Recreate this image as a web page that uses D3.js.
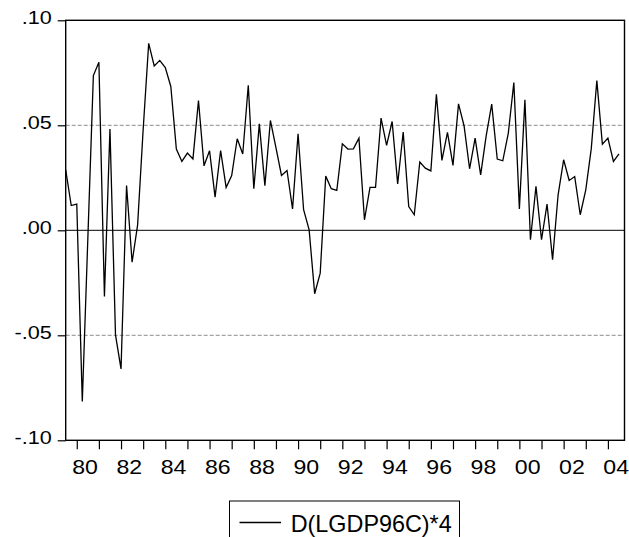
<!DOCTYPE html>
<html>
<head>
<meta charset="utf-8">
<script src="https://cdn.jsdelivr.net/npm/d3@7"></script>
<style>
  body { margin: 0; background: #fff; }
  text { font-family: "Liberation Sans", Arial, sans-serif; fill: #000; }
</style>
</head>
<body>
<svg id="chart" width="629" height="537"></svg>
<script>
'use strict';

// quarterly sample, first observation 1979Q3
var startYear = 1979.5;
var seriesName = 'D(LGDP96C)*4';
var gdpGrowth = [
  0.0288, 0.0118, 0.0125, -0.0815, -0.0040, 0.0737, 0.0800, -0.0315, 0.0482, -0.0498,
  -0.0660, 0.0213, -0.0152, 0.0026, 0.0480, 0.0890, 0.0783, 0.0809, 0.0775, 0.0685,
  0.0387, 0.0328, 0.0368, 0.0340, 0.0618, 0.0307, 0.0379, 0.0158, 0.0380, 0.0204,
  0.0261, 0.0436, 0.0363, 0.0691, 0.0198, 0.0507, 0.0213, 0.0523, 0.0394, 0.0261,
  0.0285, 0.0102, 0.0460, 0.0098, 0.0002, -0.0302, -0.0204, 0.0258, 0.0198, 0.0190,
  0.0412, 0.0387, 0.0388, 0.0439, 0.0050, 0.0204, 0.0204, 0.0534, 0.0404, 0.0518,
  0.0221, 0.0468, 0.0113, 0.0074, 0.0325, 0.0296, 0.0283, 0.0648, 0.0333, 0.0466,
  0.0309, 0.0602, 0.0498, 0.0293, 0.0439, 0.0264, 0.0450, 0.0601, 0.0339, 0.0331,
  0.0463, 0.0704, 0.0102, 0.0621, -0.0045, 0.0209, -0.0045, 0.0125, -0.0140, 0.0169,
  0.0336, 0.0237, 0.0256, 0.0074, 0.0193, 0.0390, 0.0713, 0.0410, 0.0439, 0.0328,
  0.0364
];
var yTicks = [-0.10, -0.05, 0.00, 0.05, 0.10];
var yTickLabels = ['-.10', '-.05', '.00', '.05', '.10'];
var yearTicks = d3.range(1980, 2005);
var yearLabels = ['80', '82', '84', '86', '88', '90', '92', '94', '96', '98', '00', '02', '04'];

var plotLeft = 65.7, plotRight = 624.5, plotTop = 20.3, plotBottom = 440.3;

var svg = d3.select('#chart');

var x = d3.scaleLinear().domain([1979.5, 2004.75]).range([plotLeft, plotRight]);
var y = d3.scaleLinear().domain([-0.1, 0.1]).range([plotBottom, plotTop]);

// the original font renders wider than Arial, so widen the glyphs and
// re-anchor by hand (textLength grows to the right of the start point)
function stretch(sel, factor, anchor) {
  sel.each(function () {
    var el = d3.select(this);
    var w = this.getComputedTextLength();
    var nx = +el.attr('x') || 0;
    var sw = w * factor;
    if (anchor === 'end') nx = nx - sw;
    if (anchor === 'middle') nx = nx - sw / 2;
    el.attr('text-anchor', 'start').attr('x', nx)
      .attr('textLength', sw).attr('lengthAdjust', 'spacingAndGlyphs');
  });
}

// reference lines
svg.append('g').selectAll('line').data([0.05, -0.05]).enter().append('line')
  .attr('x1', plotLeft).attr('x2', plotRight)
  .attr('y1', function (d) { return y(d); }).attr('y2', function (d) { return y(d); })
  .attr('stroke', '#8c8c8c').attr('stroke-width', 1).attr('stroke-dasharray', '4,2');
svg.append('line')
  .attr('x1', plotLeft).attr('x2', plotRight).attr('y1', y(0)).attr('y2', y(0))
  .attr('stroke', '#000').attr('stroke-width', 1);

// series
var line = d3.line()
  .x(function (d, i) { return x(startYear + i * 0.25); })
  .y(function (d) { return y(d); });
svg.append('path').datum(gdpGrowth)
  .attr('d', line).attr('fill', 'none')
  .attr('stroke', '#000').attr('stroke-width', 1.3).attr('stroke-linejoin', 'miter');

// y axis
var yAxis = svg.append('g').attr('transform', 'translate(' + plotLeft + ',0)')
  .call(d3.axisLeft(y).tickValues(yTicks).tickSize(8).tickPadding(6)
    .tickFormat(function (d, i) { return yTickLabels[i]; }));
yAxis.select('.domain').remove();
yAxis.selectAll('.tick line').attr('stroke', '#000').attr('stroke-width', 1.2);
yAxis.selectAll('text').attr('font-size', 18).attr('dy', '3.3')
  .style('font-family', '"Liberation Sans", Arial, sans-serif')
  .call(stretch, 1.2, 'end');

// x axis
var xAxis = svg.append('g').attr('transform', 'translate(0,' + plotBottom + ')')
  .call(d3.axisBottom(x).tickValues(yearTicks).tickSize(9).tickFormat(''));
xAxis.select('.domain').remove();
xAxis.selectAll('.tick line').attr('stroke', '#000').attr('stroke-width', 1.2);
svg.append('g').selectAll('text').data(yearLabels).enter().append('text')
  .attr('x', function (d, i) { return x(1980 + i * 2 + 0.375); })
  .attr('y', 473.5)
  .attr('font-size', 21)
  .text(function (d) { return d; })
  .call(stretch, 1.1, 'middle');

// frame
svg.append('rect')
  .attr('x', plotLeft).attr('y', plotTop).attr('width', plotRight - plotLeft).attr('height', plotBottom - plotTop)
  .attr('fill', 'none').attr('stroke', '#000').attr('stroke-width', 1.4);

// legend
var legend = svg.append('g');
legend.append('rect')
  .attr('x', 229.5).attr('y', 501).attr('width', 230).attr('height', 60)
  .attr('fill', 'none').attr('stroke', '#000').attr('stroke-width', 1);
legend.append('line')
  .attr('x1', 239.5).attr('x2', 281).attr('y1', 522.5).attr('y2', 522.5)
  .attr('stroke', '#000').attr('stroke-width', 1.3);
legend.append('text')
  .attr('x', 290.7).attr('y', 531.5).attr('font-size', 24)
  .attr('textLength', 161).attr('lengthAdjust', 'spacingAndGlyphs')
  .text(seriesName);
</script>
</body>
</html>
